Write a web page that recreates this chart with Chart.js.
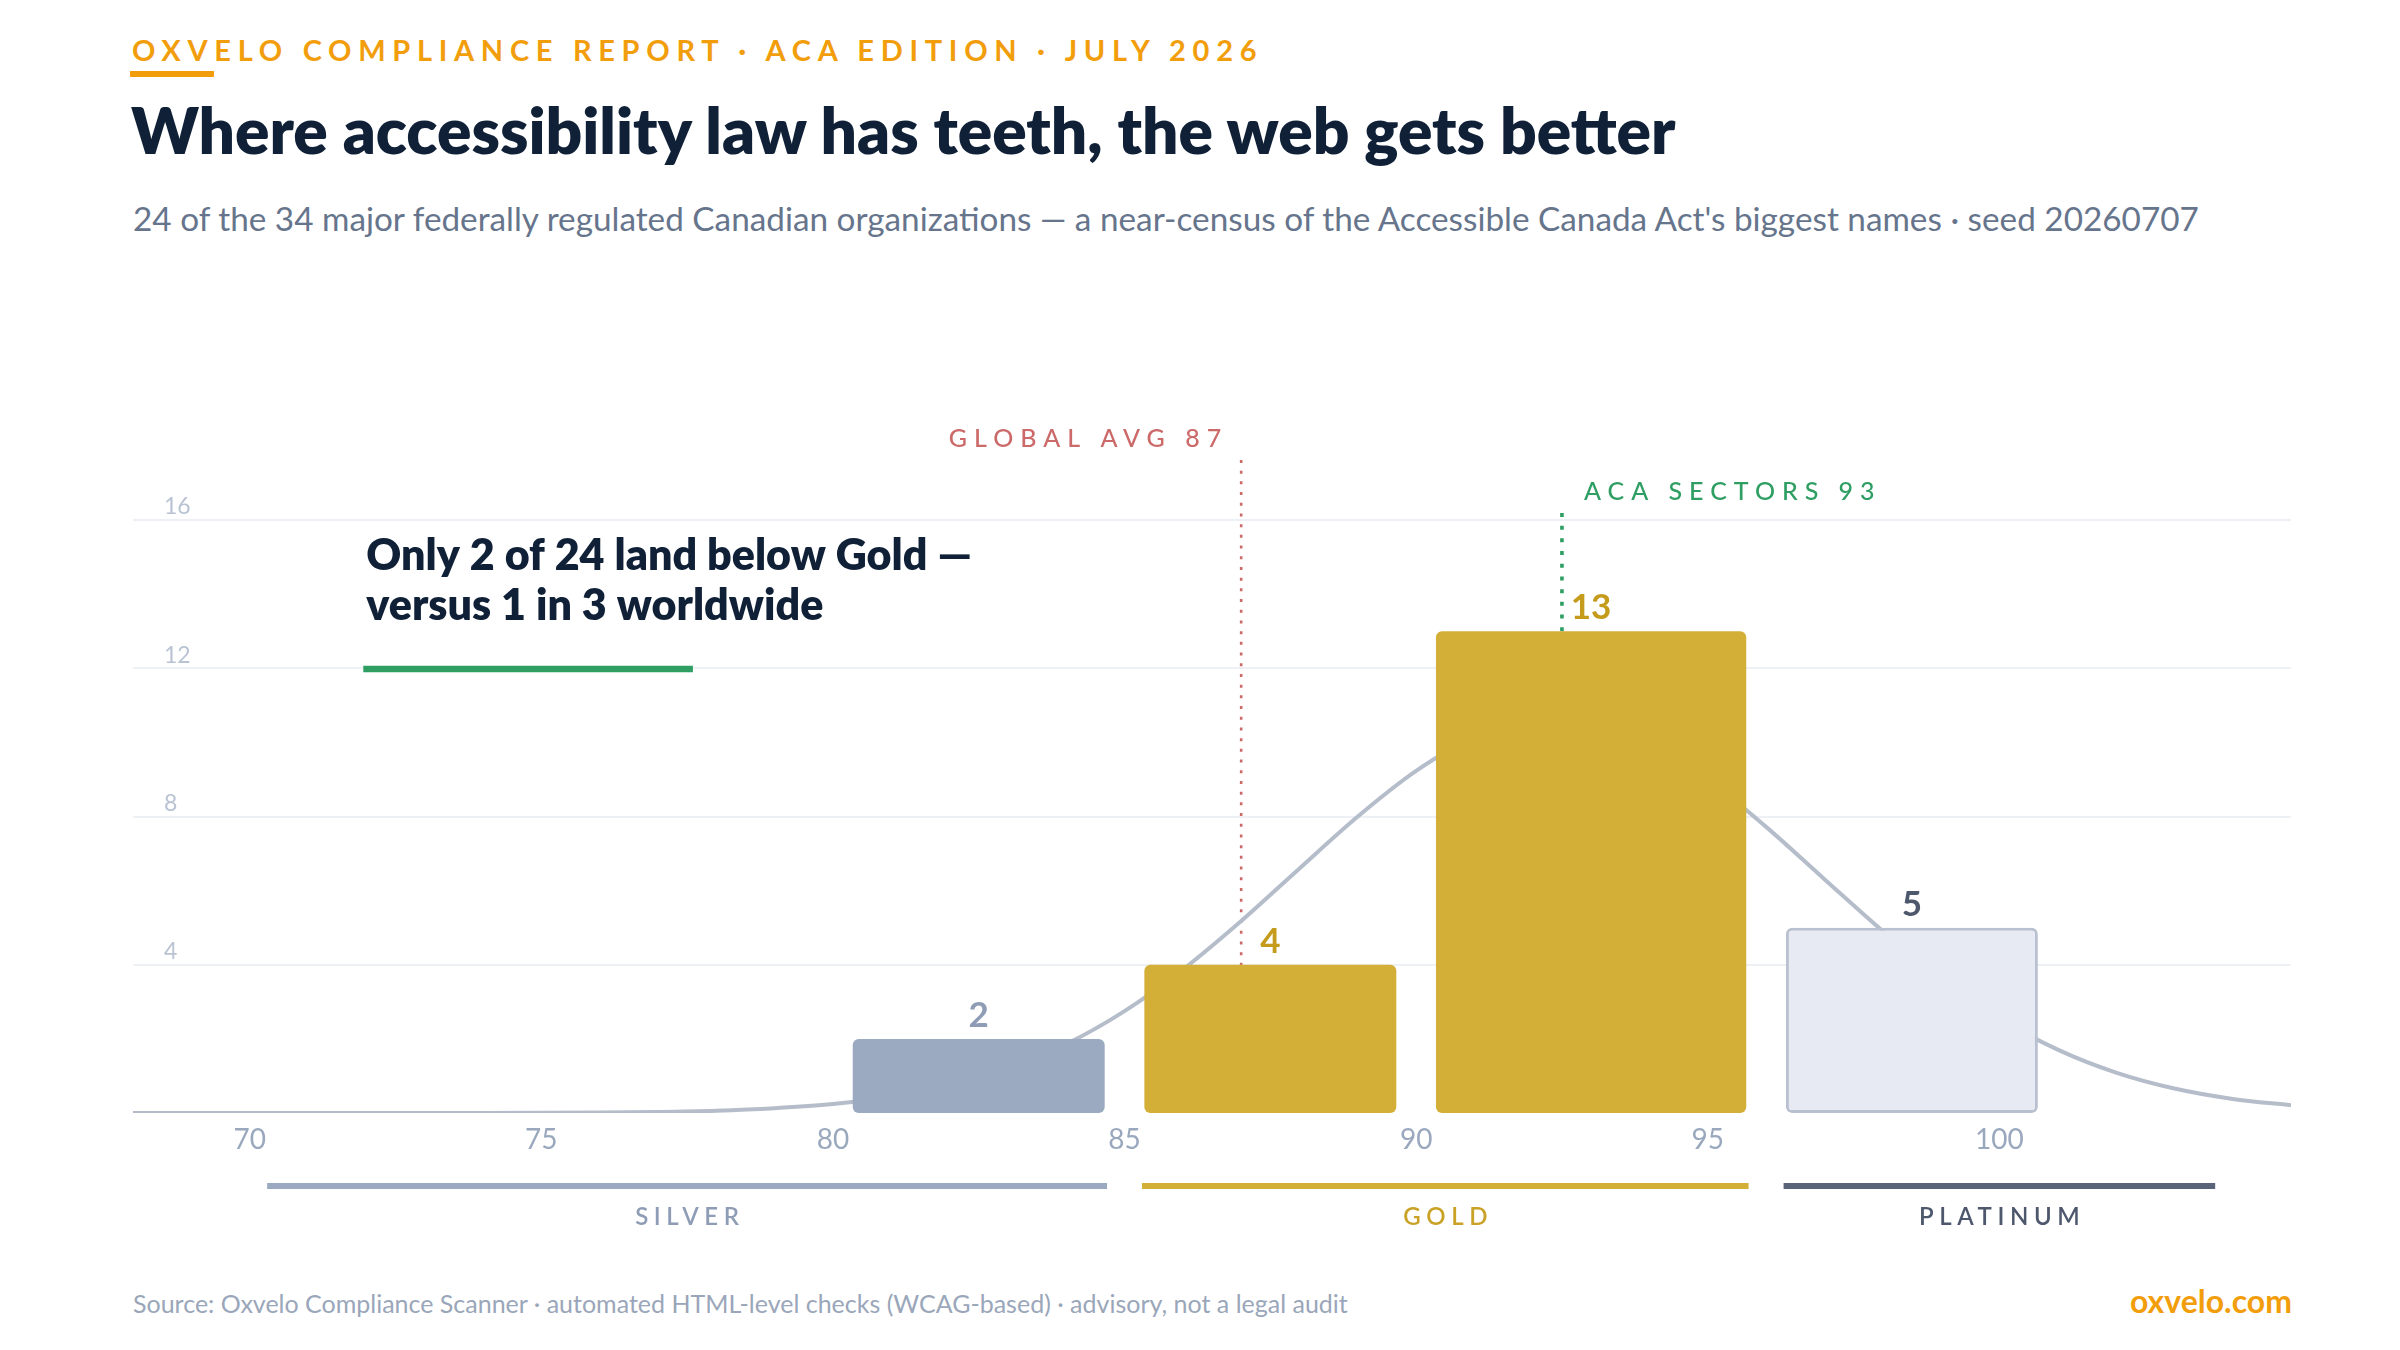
<!DOCTYPE html>
<html><head><meta charset="utf-8">
<script src="https://cdn.jsdelivr.net/npm/chart.js@4.4.1/dist/chart.umd.min.js"></script>
<style>
html,body{margin:0;padding:0;background:#fff;}
body{width:2400px;height:1350px;position:relative;overflow:hidden;font-family:Lato,'Noto Sans',sans-serif;}
.kicker{position:absolute;left:132px;top:35px;font-size:29px;line-height:29px;font-weight:700;letter-spacing:6.7px;color:#f29e0c;white-space:nowrap;}
.kbar{position:absolute;left:130px;top:71px;width:84px;height:6px;background:#f29e0c;}
.title{position:absolute;left:131px;top:98px;font-size:64px;line-height:64px;font-weight:800;color:#0f2037;white-space:nowrap;}
.sub{position:absolute;left:133px;top:202px;font-size:33.3px;line-height:33px;font-weight:400;color:#66758c;white-space:nowrap;}
#wrap{position:absolute;left:0;top:380px;width:2400px;height:880px;}
.foot{position:absolute;left:133px;top:1291px;font-size:25px;line-height:25px;color:#9aa6b9;white-space:nowrap;}
.brand{position:absolute;right:108px;top:1285px;font-size:32px;line-height:32px;font-weight:700;color:#f29e0c;white-space:nowrap;}
</style></head>
<body>
<div class="kicker">OXVELO COMPLIANCE REPORT · ACA EDITION · JULY 2026</div>
<div class="kbar"></div>
<div class="title">Where accessibility law has teeth, the web gets better</div>
<div class="sub">24 of the 34 major federally regulated Canadian organizations — a near-census of the Accessible Canada Act's biggest names · seed 20260707</div>
<div id="wrap"><canvas id="c" width="2400" height="880"></canvas></div>
<div class="foot">Source: Oxvelo Compliance Scanner · automated HTML-level checks (WCAG-based) · advisory, not a legal audit</div>
<div class="brand">oxvelo.com</div>
<script>
// ---- data ----
const binStart = [80, 85, 90, 96];
const binEnd   = [85, 90, 96, 101];
const counts   = [2, 4, 13, 5];
const binTier  = ['silver', 'gold', 'gold', 'platinum'];

const curveX = [68,69,70,71,72,73,74,75,76,77,78,79,80,81,82,83,84,85,86,87,88,89,90,91,92,93,94,95,96,97,98,99,100,101,102,103,104,105];
const curveY = [0,0,0,0,0,0.001,0.003,0.006,0.014,0.03,0.063,0.13,0.24,0.43,0.74,1.2,1.86,2.75,3.87,5.18,6.6,8.0,9.23,10.14,10.6,10.54,9.99,9.0,7.72,6.31,4.91,3.63,2.55,1.71,1.09,0.66,0.38,0.21];

const xTicks = [70, 75, 80, 85, 90, 95, 100];
const yTicks = [4, 8, 12, 16];

const tierNames = ['SILVER', 'GOLD', 'PLATINUM'];
const tierKeys  = ['silver', 'gold', 'platinum'];
const tierStart = [70, 85, 96];
const tierEnd   = [85, 96, 104];

const globalAvg = 87;
const acaSectors = 92.5;
const refLabels = ['GLOBAL AVG 87', 'ACA SECTORS 93'];
const calloutLines = ['Only 2 of 24 land below Gold —', 'versus 1 in 3 worldwide'];
const calloutAnchor = [72, 12];

// ---- styles ----
const pal = {
  silver:   {fill:'#9baac1', border:'#9baac1', bw:0, label:'#8e9cb5', rule:'#9baac1', text:'#8e9cb5'},
  gold:     {fill:'#d4af37', border:'#d4af37', bw:0, label:'#c59b1b', rule:'#d4af37', text:'#c9a227'},
  platinum: {fill:'#e7eaf2', border:'#b9c1d0', bw:3, label:'#4e586d', rule:'#5a6479', text:'#4e586d'}
};
const FONT = "Lato, 'Noto Sans', sans-serif";
const BIN_GAP = 0.34, TIER_GAP = 0.3;

const binWidthPlugin = {
  id: 'binWidth',
  afterDatasetsUpdate(chart) {
    const xs = chart.scales.x;
    chart.getDatasetMeta(0).data.forEach((el, i) => {
      const l = xs.getPixelForValue(binStart[i] + BIN_GAP);
      const r = xs.getPixelForValue(binEnd[i] - BIN_GAP);
      el.x = (l + r) / 2;
      el.width = r - l;
    });
  }
};

const refLinePlugin = {
  id: 'refLines',
  beforeDatasetsDraw(chart) {
    const {ctx, scales:{x, y}} = chart;
    const lines = [
      {v: globalAvg, top: 17.62, color:'#cc6a6a', dash:[3,7.7], w:2.6, text: refLabels[0], side:'left'},
      {v: acaSectors, top: 16.19, color:'#2e9e62', dash:[4,8.7], w:3.6, text: refLabels[1], side:'right'}
    ];
    lines.forEach(L => {
      const px = x.getPixelForValue(L.v);
      const top = y.getPixelForValue(L.top);
      const bot = y.getPixelForValue(0);
      ctx.save();
      ctx.strokeStyle = L.color; ctx.lineWidth = L.w; ctx.setLineDash(L.dash);
      ctx.beginPath(); ctx.moveTo(px, top); ctx.lineTo(px, bot); ctx.stroke();
      ctx.setLineDash([]);
      ctx.fillStyle = L.color;
      ctx.font = `500 25px ${FONT}`;
      ctx.letterSpacing = '7px';
      ctx.textBaseline = 'middle';
      if (L.side === 'left') { ctx.textAlign = 'right'; ctx.fillText(L.text, px - 13, top - 21); }
      else { ctx.textAlign = 'left'; ctx.fillText(L.text, px + 22, top - 21); }
      ctx.restore();
    });
    // callout
    const ax = x.getPixelForValue(calloutAnchor[0]);
    const ay = y.getPixelForValue(calloutAnchor[1]);
    ctx.save();
    ctx.fillStyle = '#0f2037';
    ctx.font = `800 43px ${FONT}`;
    ctx.textAlign = 'left'; ctx.textBaseline = 'alphabetic';
    ctx.fillText(calloutLines[0], ax, ay - 98);
    ctx.fillText(calloutLines[1], ax, ay - 48);
    ctx.fillStyle = '#2e9e62';
    ctx.fillRect(ax - 3, ay - 2.5, x.getPixelForValue(77.6) - ax + 3, 6.5);
    ctx.restore();
  }
};

const valueLabelPlugin = {
  id: 'valueLabels',
  afterDatasetsDraw(chart) {
    const {ctx} = chart;
    ctx.save();
    ctx.font = `700 35px ${FONT}`;
    ctx.textAlign = 'center'; ctx.textBaseline = 'alphabetic';
    chart.getDatasetMeta(0).data.forEach((el, i) => {
      ctx.fillStyle = pal[binTier[i]].label;
      ctx.fillText(String(counts[i]), el.x, el.y - 12);
    });
    ctx.restore();
  }
};

const tierPlugin = {
  id: 'tiers',
  afterDraw(chart) {
    const {ctx, scales:{x}, chartArea} = chart;
    ctx.save();
    ctx.font = `600 24px ${FONT}`;
    ctx.letterSpacing = '5.6px';
    ctx.textAlign = 'center'; ctx.textBaseline = 'middle';
    tierNames.forEach((name, i) => {
      const p = pal[tierKeys[i]];
      const l = x.getPixelForValue(tierStart[i] + TIER_GAP);
      const r = x.getPixelForValue(tierEnd[i] - TIER_GAP);
      ctx.fillStyle = p.rule;
      ctx.fillRect(l, chartArea.bottom + 70, r - l, 6);
      ctx.fillStyle = p.text;
      ctx.fillText(name, (l + r) / 2 + 2.8, chartArea.bottom + 104);
    });
    ctx.restore();
  }
};

Chart.defaults.font.family = FONT;
new Chart(document.getElementById('c'), {
  type: 'bar',
  data: {
    datasets: [
      {
        type: 'bar', label: 'Organizations',
        data: binStart.map((s, i) => ({x: (s + binEnd[i]) / 2, y: counts[i]})),
        backgroundColor: binTier.map(t => pal[t].fill),
        borderColor: binTier.map(t => pal[t].border),
        borderWidth: binTier.map(t => pal[t].bw),
        borderRadius: 6, borderSkipped: false, grouped: false, order: 0
      },
      {
        type: 'line', label: 'Distribution',
        data: curveX.map((v, i) => ({x: v, y: curveY[i]})),
        borderColor: '#b5bdca', borderWidth: 4, pointRadius: 0,
        cubicInterpolationMode: 'monotone', fill: false, order: 1
      }
    ]
  },
  options: {
    responsive: false, animation: false, devicePixelRatio: 1,
    layout: {padding: {left: 133, right: 109, top: 140, bottom: 107}},
    scales: {
      x: {
        type: 'linear', min: 68, max: 105, offset: false,
        afterBuildTicks: s => { s.ticks = xTicks.map(v => ({value: v})); },
        afterFit: s => { s.height = 40; },
        grid: {display: false, drawTicks: false, offset: false}, border: {display: false},
        ticks: {color: '#9aa8be', font: {size: 28}, padding: 10, autoSkip: false, maxRotation: 0, callback: v => String(v)}
      },
      y: {
        min: 0, max: 16,
        afterBuildTicks: s => { s.ticks = yTicks.map(v => ({value: v})); },
        afterFit: s => { s.width = 0; },
        grid: {color: '#edf0f5', lineWidth: 2, drawTicks: false}, border: {display: false},
        ticks: {mirror: true, padding: 31, labelOffset: -13, color: '#b9c3d3', font: {size: 23}}
      }
    },
    plugins: {legend: {display: false}, tooltip: {enabled: false}}
  },
  plugins: [binWidthPlugin, refLinePlugin, valueLabelPlugin, tierPlugin]
});
</script>
</body></html>
